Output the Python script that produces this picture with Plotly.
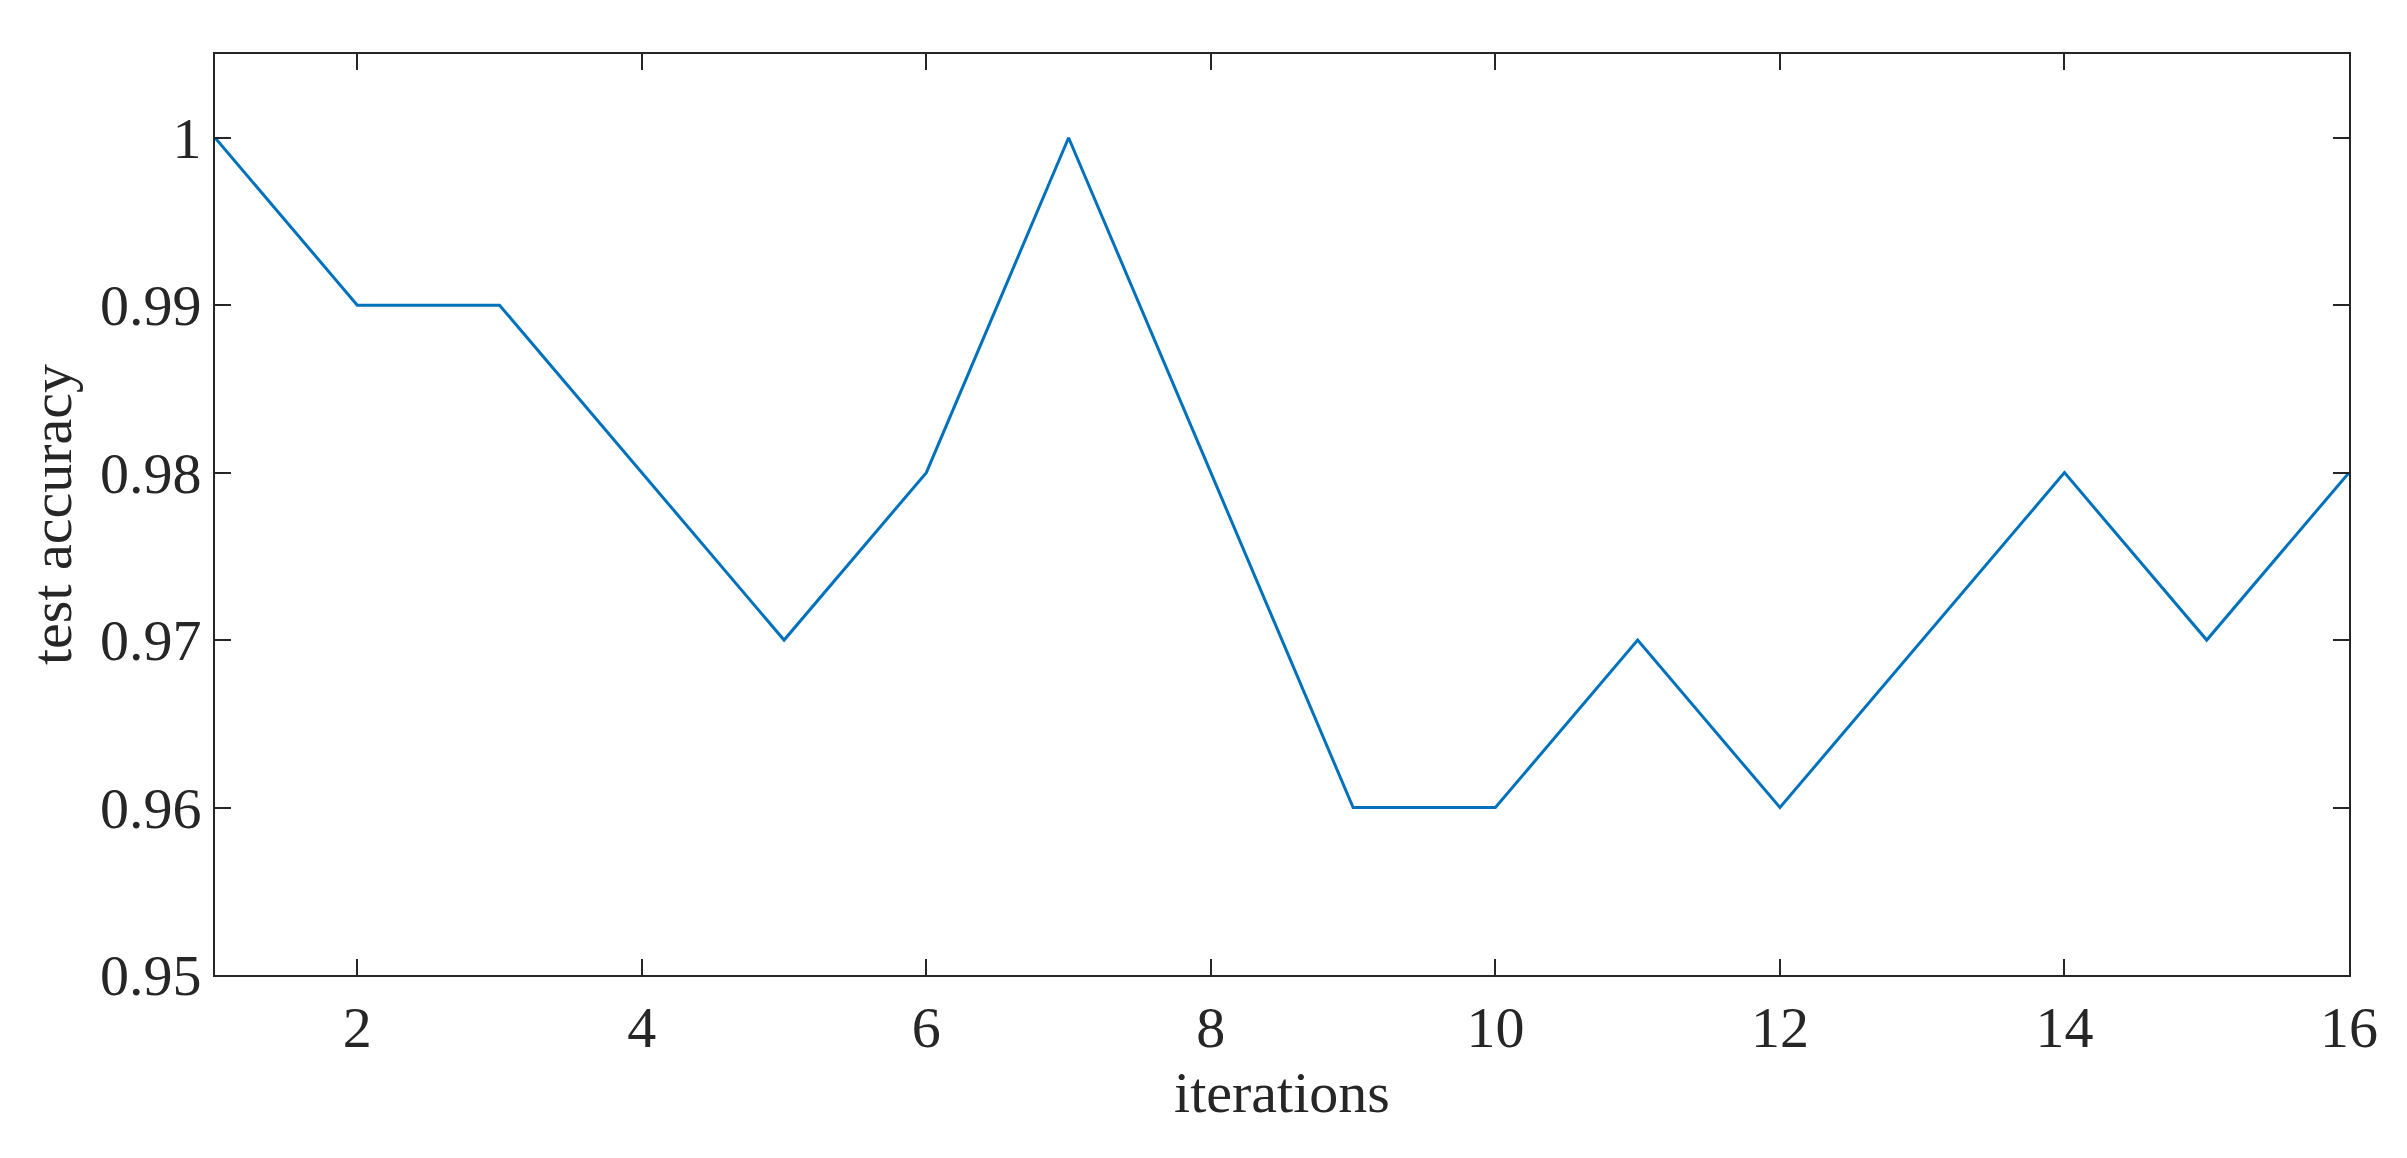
import plotly.graph_objects as go

iterations = list(range(1, 17))
accuracy = [1.0, 0.99, 0.99, 0.98, 0.97, 0.98, 1.0, 0.98, 0.96, 0.96, 0.97, 0.96, 0.97, 0.98, 0.97, 0.98]
x_ticks = [2, 4, 6, 8, 10, 12, 14, 16]
y_ticks = [0.95, 0.96, 0.97, 0.98, 0.99, 1.0]
y_labels = ["0.95", "0.96", "0.97", "0.98", "0.99", "1"]

fig = go.Figure(go.Scatter(x=iterations, y=accuracy, mode="lines",
                           line=dict(color="#0072BD", width=3)))
font = dict(family="Liberation Serif", size=58, color="#262626")
axis_common = dict(showgrid=False, zeroline=False, showline=True, mirror="ticks",
                   linecolor="#262626", linewidth=2, ticks="inside", ticklen=16,
                   tickwidth=2, tickcolor="#262626", tickfont=font)
fig.update_xaxes(range=[1, 16], tickvals=x_ticks, title=dict(text="iterations", font=font, standoff=0), **axis_common)
fig.update_yaxes(range=[0.95, 1.005], tickvals=y_ticks, ticktext=y_labels,
                 title=dict(text="test accuracy", font=font, standoff=10), **axis_common)
fig.update_layout(width=2407, height=1158, plot_bgcolor="white", paper_bgcolor="white",
                  margin=dict(l=207, r=66, t=46, b=191), showlegend=False)
fig.write_html("out.html")
